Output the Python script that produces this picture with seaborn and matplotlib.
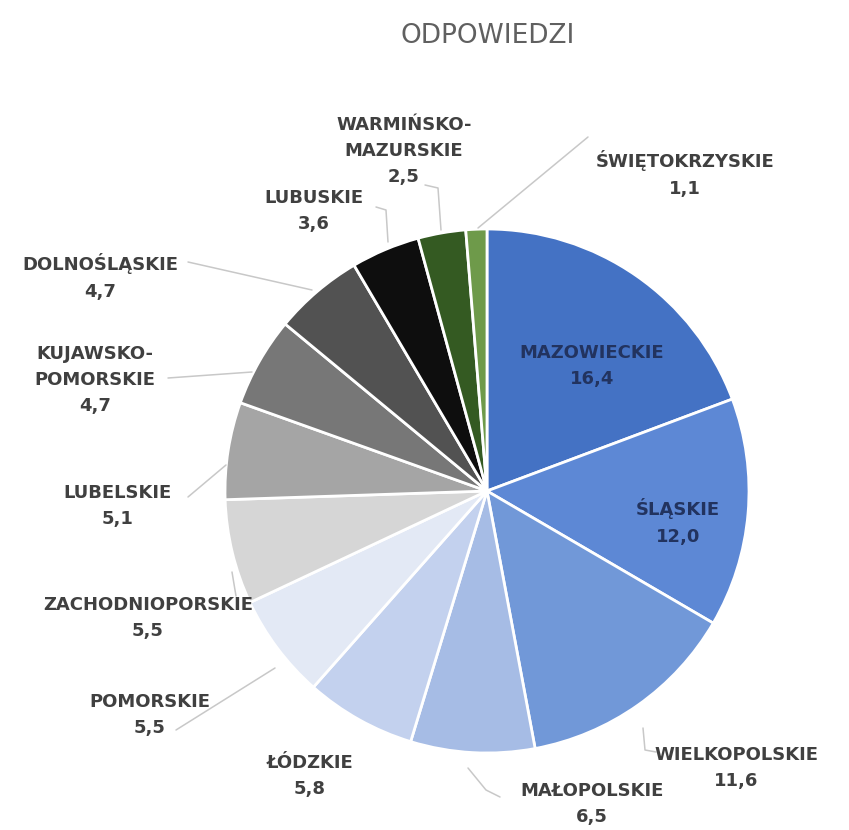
import matplotlib
matplotlib.use("Agg")
import matplotlib.pyplot as plt
import seaborn as sns

# data (clockwise from 12 o'clock)
regions = ["MAZOWIECKIE", "ŚLĄSKIE", "WIELKOPOLSKIE", "MAŁOPOLSKIE", "ŁÓDZKIE",
           "POMORSKIE", "ZACHODNIOPORSKIE", "LUBELSKIE", "KUJAWSKO-\nPOMORSKIE",
           "DOLNOŚLĄSKIE", "LUBUSKIE", "WARMIŃSKO-\nMAZURSKIE", "ŚWIĘTOKRZYSKIE"]
values = [16.4, 12.0, 11.6, 6.5, 5.8, 5.5, 5.5, 5.1, 4.7, 4.7, 3.6, 2.5, 1.1]
colors = ["#4472C4", "#5D88D5", "#7198D8", "#A6BCE5", "#C3D1EE", "#E3E9F5",
          "#D6D6D6", "#A5A5A5", "#777777", "#525252", "#0E0E0E", "#345A22", "#6E9A4A"]

W, H = 849, 830
CX, CY, R = 487, 491, 262

sns.set_theme(style="white")
plt.rcParams["font.family"] = ["DejaVu Sans"]

fig = plt.figure(figsize=(W / 100, H / 100), dpi=100)
ax = fig.add_axes([0, 0, 1, 1])

ax.pie(values, colors=colors, startangle=90, counterclock=False,
       center=(CX, H - CY), radius=R, frame=True,
       wedgeprops=dict(edgecolor="white", linewidth=2))
ax.set_xlim(0, W)
ax.set_ylim(0, H)
ax.set_aspect("equal")
ax.axis("off")


def fmt(v):
    return f"{v:.1f}".replace(".", ",")


# label block centres in pixel coords (x, y from top)
label_pos = [(592, 366), (678, 522), (736, 768), (592, 804), (310, 776),
             (150, 715), (148, 618), (118, 506), (95, 380), (100, 277),
             (314, 211), (404, 151), (685, 174)]
inside = {0, 1}

# leader lines (pixel coords)
leaders = {
    2: [(643, 728), (645, 750), (656, 752)],
    3: [(468, 768), (486, 790), (500, 797)],
    5: [(176, 730), (275, 668)],
    6: [(232, 572), (236, 596)],
    7: [(188, 497), (226, 465)],
    8: [(168, 378), (252, 372)],
    9: [(188, 262), (312, 290)],
    10: [(376, 207), (386, 210), (388, 242)],
    11: [(425, 185), (438, 188), (441, 230)],
    12: [(478, 228), (588, 137)],
}

for i, pts in leaders.items():
    xs = [p[0] for p in pts]
    ys = [H - p[1] for p in pts]
    ax.plot(xs, ys, color="#C8C8C8", lw=1.1, zorder=1)

for i, (name, v) in enumerate(zip(regions, values)):
    x, y = label_pos[i]
    col = "#22335F" if i in inside else "#404040"
    ax.text(x, H - y, f"{name}\n{fmt(v)}", ha="center", va="center",
            fontsize=13, fontweight="bold", color=col, linespacing=1.6,
            zorder=5)

ax.text(488, H - 36, "ODPOWIEDZI", ha="center", va="center",
        fontsize=19, color="#606060", family=["Liberation Sans Narrow", "DejaVu Sans"])

fig.savefig("out.png", dpi=100)
